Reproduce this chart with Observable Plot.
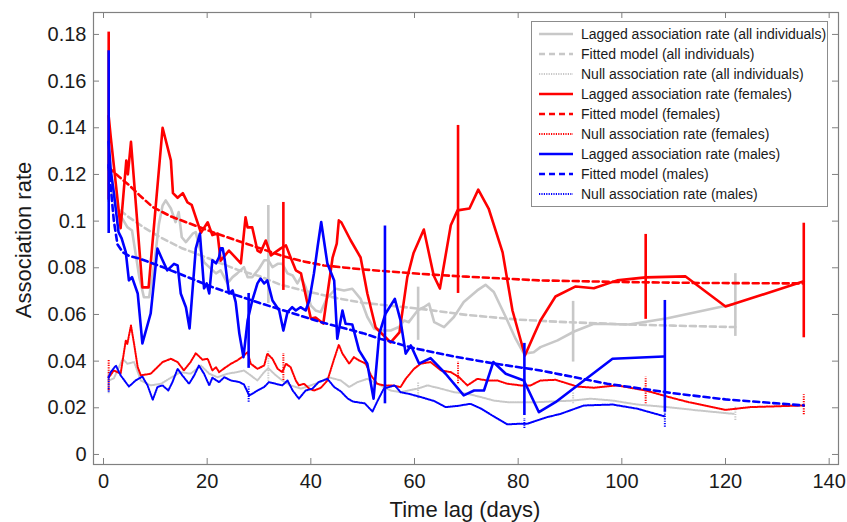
<!DOCTYPE html>
<html><head><meta charset="utf-8">
<script src="https://cdn.jsdelivr.net/npm/d3@7"></script>
<script src="https://cdn.jsdelivr.net/npm/@observablehq/plot@0.6"></script>
<style>
body{margin:0;background:#fff;}
#wrap{position:relative;width:847px;height:522px;font-family:"Liberation Sans",Arial,Helvetica,sans-serif;color:#1a1a1a;}
#legend{position:absolute;left:531px;top:21px;width:297px;height:186px;border:1px solid #8c8c8c;background:#fff;box-sizing:border-box;}
.row{position:absolute;left:6px;height:20px;display:flex;align-items:center;font-size:14px;white-space:nowrap;}
.row svg{margin-right:7px;}
#ylab{position:absolute;left:24px;top:240px;transform:translate(-50%,-50%) rotate(-90deg);font-size:22px;white-space:nowrap;}
#xlab{position:absolute;left:465px;top:497px;transform:translate(-50%,0);font-size:22px;white-space:nowrap;}
</style></head>
<body><div id="wrap"><div id="chart"></div><div id="legend"></div><div id="ylab">Association rate</div><div id="xlab">Time lag (days)</div></div>
<script>
// ---- data (time lag in days, association rate) ----
const xTicks = [0, 20, 40, 60, 80, 100, 120, 140];
const yTicks = [0, 0.02, 0.04, 0.06, 0.08, 0.1, 0.12, 0.14, 0.16, 0.18];

const allLagged = [[1,0.125],[2.7,0.1046],[4.6,0.0974],[5.5,0.096],[6.9,0.076],[7.8,0.0674],[8.8,0.0674],[9.8,0.0817],[10.7,0.0989],[11.4,0.1067],[12.0,0.1089],[13.0,0.1054],[13.9,0.0996],[14.5,0.1039],[15.1,0.0931],[15.9,0.091],[17.2,0.0946],[17.8,0.0953],[18.4,0.0896],[19.4,0.0824],[20.4,0.0803],[21.7,0.0776],[22.6,0.0789],[23.9,0.0733],[24.9,0.076],[25.8,0.0776],[27.1,0.0803],[27.8,0.076],[28.7,0.076],[30.0,0.0796],[31.0,0.0832],[31.8,0.0832],[32.6,0.0803],[33.6,0.0817],[34.5,0.0817],[35.5,0.0776],[36.5,0.0767],[37.4,0.0733],[38.1,0.076],[39.0,0.0717],[40.0,0.0639],[40.9,0.0617],[41.9,0.061],[43.1,0.067],[44.8,0.071],[46.4,0.0703],[48.0,0.071],[49.6,0.0667],[50.9,0.0589],[52.2,0.0539],[53.5,0.0531],[55.4,0.0531],[57.0,0.0546],[58.0,0.0574],[58.9,0.0567],[60.6,0.0617],[61.8,0.0631],[62.8,0.0646],[63.8,0.0567],[65.7,0.0546],[67.6,0.0589],[69.5,0.0653],[72.1,0.0703],[73.7,0.0727],[75.3,0.0696],[77.6,0.0589],[79.5,0.0496],[81.1,0.0432],[83.0,0.0438],[84.3,0.046],[87.6,0.0489],[90.8,0.0527],[94.6,0.056],[101.4,0.0557],[108.8,0.0584],[121.9,0.0646]];
const allLaggedBars = [[1,0.108,0.145],[31.8,0.0647,0.1067],[60.7,0.0489,0.0717],[90.6,0.0396,0.0656],[121.9,0.0506,0.0775]];
const allFitted = [[1,0.116],[2.4,0.106],[5,0.1015],[8,0.097],[11,0.093],[15,0.0885],[18,0.086],[22,0.0825],[26,0.079],[30,0.0765],[34.2,0.0727],[40,0.0695],[45,0.067],[50,0.065],[61.2,0.0624],[70,0.0598],[80,0.0578],[88.2,0.0568],[100,0.0558],[110,0.0552],[121.9,0.0546]];
const allNull = [[1,0.0317],[2.0,0.0326],[3.7,0.041],[4.6,0.0389],[5.9,0.0396],[7.2,0.0317],[9.1,0.0296],[11.1,0.0303],[13.0,0.0329],[14.9,0.0353],[16.8,0.0346],[18.8,0.0381],[20.4,0.0346],[22.0,0.0331],[23.9,0.0346],[25.8,0.0353],[27.1,0.036],[28.4,0.0339],[29.7,0.0317],[31.0,0.0353],[31.8,0.037],[32.9,0.0346],[34.5,0.0317],[36.1,0.0296],[38.1,0.0282],[40.0,0.0296],[42.5,0.0317],[43.4,0.0331],[45.8,0.0317],[47.4,0.0289],[49.0,0.031],[50.9,0.0324],[52.8,0.0303],[55.4,0.0274],[57.3,0.0267],[60.6,0.0282],[62.5,0.0296],[65.1,0.0282],[67.6,0.0267],[70.2,0.026],[72.8,0.0246],[75.3,0.0231],[77.9,0.0224],[80.5,0.0224],[83.7,0.0224],[90.5,0.0231],[94.0,0.0239],[98.2,0.0231],[103.0,0.0214],[108.8,0.0203],[114.6,0.0189],[121.6,0.0174]];
const allNullBars = [[1,0.026,0.036],[31.8,0.0303,0.0446],[60.7,0.0239,0.031],[90.6,0.0217,0.0267],[121.9,0.0146,0.0203]];

const femLagged = [[1,0.145],[1.4,0.136],[3.3,0.097],[4.4,0.126],[4.7,0.12],[5.3,0.134],[7.5,0.0716],[8.7,0.0716],[11.4,0.14],[13.0,0.126],[13.4,0.112],[14.3,0.11],[15.3,0.112],[16.2,0.108],[17.0,0.107],[17.6,0.103],[18.8,0.095],[20.1,0.0995],[21.0,0.094],[22.0,0.0947],[22.6,0.083],[24.2,0.0874],[26.5,0.0819],[27.4,0.1016],[27.8,0.0973],[28.7,0.0973],[29.7,0.0874],[30.3,0.0866],[31.3,0.0917],[32.3,0.0853],[34.2,0.0883],[35.2,0.0896],[36.1,0.0844],[37.1,0.0789],[38.1,0.0776],[39.3,0.0652],[40.0,0.0583],[40.9,0.0587],[42.4,0.0561],[44.2,0.0844],[45.0,0.0904],[45.4,0.1003],[45.9,0.0994],[47.7,0.0917],[49.6,0.0844],[50.9,0.069],[52.5,0.0544],[55.4,0.048],[57.1,0.0523],[58.6,0.0759],[59.8,0.0862],[61.8,0.0964],[63.7,0.0767],[64.9,0.0711],[67.0,0.0982],[68.3,0.1046],[70.6,0.1054],[72.3,0.1135],[74.3,0.1054],[77.0,0.0866],[78.9,0.0617],[81.3,0.0424],[83.0,0.051],[84.3,0.0574],[87.2,0.0677],[91.1,0.072],[94.6,0.0712],[99.1,0.0746],[104.6,0.0759],[112.3,0.0763],[120.0,0.0634],[135.1,0.0742]];
const femLaggedBars = [[1,0.109,0.181],[34.7,0.0703,0.108],[68.4,0.069,0.141],[104.6,0.0579,0.0943],[135.1,0.05,0.0991]];
const femFitted = [[1,0.123],[3,0.119],[5,0.1153],[7,0.111],[9.5,0.106],[13,0.102],[17.8,0.098],[22,0.0945],[26,0.0915],[30,0.0885],[34.2,0.0853],[38,0.083],[42.5,0.081],[50,0.0793],[61,0.0774],[70,0.0762],[84,0.0746],[100,0.0739],[115,0.0735],[135.1,0.0733]];
const femNull = [[1,0.033],[2.0,0.036],[3.3,0.0346],[4.3,0.0489],[4.6,0.0474],[5.3,0.0553],[5.9,0.0474],[6.6,0.0374],[7.2,0.0339],[9.1,0.0346],[10.4,0.0374],[11.4,0.0396],[13.0,0.041],[14.3,0.0396],[15.5,0.036],[16.8,0.0396],[17.8,0.0434],[19.1,0.0406],[20.1,0.041],[21.0,0.036],[21.7,0.0374],[22.3,0.0353],[23.6,0.0374],[24.6,0.0389],[25.8,0.0403],[27.1,0.0424],[27.8,0.0439],[28.4,0.0389],[29.7,0.0367],[31.0,0.0381],[31.6,0.0432],[32.6,0.041],[33.6,0.0367],[34.5,0.0353],[35.2,0.0389],[36.1,0.0374],[37.1,0.0317],[37.7,0.0296],[38.7,0.0303],[39.7,0.0282],[40.6,0.0274],[41.9,0.0285],[43.2,0.0317],[44.5,0.041],[45.4,0.047],[46.1,0.0432],[47.4,0.0389],[48.3,0.0417],[49.3,0.0403],[50.6,0.0389],[51.6,0.0339],[52.8,0.0303],[54.1,0.0296],[55.7,0.0296],[57.3,0.0289],[58.3,0.0324],[59.9,0.0367],[61.2,0.0389],[63.1,0.0396],[65.1,0.036],[67.0,0.0353],[68.6,0.0331],[70.2,0.0296],[72.1,0.0324],[74.1,0.0317],[76.0,0.0317],[77.9,0.0303],[80.5,0.0296],[82.4,0.0296],[84.3,0.0317],[87.2,0.032],[91.4,0.0291],[94.6,0.0286],[99.1,0.0296],[104.6,0.0274],[109.1,0.0246],[112.9,0.0224],[120.0,0.0191],[124.8,0.0203],[135.1,0.021]];
const femNullBars = [[1,0.0274,0.0403],[34.7,0.0317,0.0433],[68.4,0.0303,0.0396],[104.6,0.0217,0.0331],[135.1,0.017,0.0256]];

const maleLagged = [[1,0.134],[1.4,0.1217],[2.0,0.112],[2.9,0.0953],[3.5,0.0926],[4.3,0.0867],[4.9,0.0746],[5.5,0.076],[6.6,0.069],[7.5,0.0476],[9.1,0.0604],[10.4,0.0882],[11.4,0.0832],[12.3,0.0789],[13.6,0.0817],[14.3,0.081],[14.9,0.069],[15.9,0.0631],[16.6,0.054],[17.8,0.0882],[18.6,0.0947],[19.4,0.0712],[19.9,0.0733],[20.4,0.069],[21.0,0.0832],[21.7,0.0819],[22.3,0.0846],[22.6,0.0883],[23.0,0.0883],[23.4,0.0832],[24.2,0.069],[24.9,0.0703],[25.5,0.0653],[26.2,0.0519],[27.0,0.0417],[27.8,0.0574],[28.7,0.066],[29.7,0.0733],[30.3,0.0754],[31.0,0.0733],[31.6,0.0746],[32.6,0.066],[33.9,0.0617],[34.7,0.0531],[35.5,0.061],[36.4,0.0631],[37.1,0.0617],[38.0,0.0631],[39.0,0.0617],[39.7,0.066],[40.6,0.0776],[41.3,0.0889],[42.0,0.0996],[43.2,0.0817],[44.5,0.0746],[45.1,0.0496],[46.1,0.0617],[46.7,0.056],[48.0,0.0557],[49.3,0.0446],[50.9,0.0389],[52.1,0.0239],[53.2,0.0517],[54.4,0.0603],[56.2,0.0667],[57.3,0.0574],[58.3,0.0432],[59.3,0.0467],[60.9,0.0389],[63.1,0.0413],[66.0,0.0346],[69.5,0.0253],[71.5,0.0274],[73.4,0.0274],[75.2,0.0396],[77.6,0.0346],[81.1,0.0317],[84.0,0.0181],[87.2,0.0224],[98.2,0.041],[108.1,0.042]];
const maleLaggedBars = [[1,0.0947,0.173],[28,0.0369,0.069],[54.3,0.0217,0.0979],[81.2,0.0167,0.0476],[108.3,0.0181,0.066]];
const maleFitted = [[1,0.124],[1.5,0.112],[2,0.1],[2.7,0.09],[3.7,0.0867],[5,0.085],[7,0.0839],[11.4,0.0803],[17.8,0.0746],[21,0.0717],[30,0.065],[42,0.0567],[50,0.052],[53.5,0.0495],[60,0.0455],[67.6,0.042],[75.3,0.039],[84.3,0.036],[97.2,0.0303],[110,0.0262],[120,0.0236],[135.1,0.021]];
const maleNull = [[1,0.033],[1.4,0.0353],[2.4,0.0381],[3.3,0.0339],[4.9,0.0291],[6.2,0.0317],[7.5,0.0334],[8.5,0.0296],[9.5,0.0234],[10.4,0.0289],[11.4,0.0296],[12.5,0.0274],[13.3,0.031],[14.3,0.0367],[15.2,0.0339],[16.5,0.0303],[17.5,0.0339],[18.4,0.0381],[19.4,0.0346],[20.4,0.0296],[21.0,0.0329],[22.3,0.031],[23.3,0.0331],[24.6,0.0317],[26.2,0.031],[27.1,0.03],[28.1,0.0253],[28.7,0.026],[29.7,0.0274],[31.0,0.0289],[31.9,0.031],[33.2,0.0303],[34.5,0.0296],[35.5,0.0317],[36.5,0.0274],[37.7,0.0239],[39.0,0.0274],[40.3,0.0282],[41.5,0.031],[43.2,0.0324],[44.5,0.0289],[45.8,0.027],[47.1,0.024],[48.1,0.0227],[49.2,0.0223],[50.4,0.0219],[51.9,0.0184],[52.9,0.0231],[54.1,0.0283],[56.2,0.0296],[57.3,0.0267],[58.9,0.026],[61.2,0.0246],[63.8,0.0229],[66.0,0.0203],[68.3,0.0208],[70.8,0.0217],[72.8,0.0197],[75.3,0.0163],[77.9,0.0129],[80.5,0.0132],[81.8,0.0132],[85.6,0.016],[88.2,0.0174],[92.7,0.021],[98.2,0.0214],[103.0,0.0196],[108.3,0.0163]];
const maleNullBars = [[1,0.0267,0.0339],[28,0.0224,0.0289],[54.3,0.0219,0.026],[81.2,0.0111,0.0154],[108.3,0.0117,0.0181]];

// ---- styles ----
const GRAY = "#c8c8c8", RED = "#ff0000", BLUE = "#0000ff";
const STYLES = {
  lagged: {strokeWidth: 2.6, dash: null},
  fitted: {strokeWidth: 2.6, dash: "6,4"},
  nullr:  {strokeWidth: 2, dash: "1.2,1.2"}
};
const series = [
  {name: "Lagged association rate (all individuals)", data: allLagged, bars: allLaggedBars, color: GRAY, style: "lagged"},
  {name: "Fitted model (all individuals)", data: allFitted, bars: [], color: GRAY, style: "fitted"},
  {name: "Null association rate (all individuals)", data: allNull, bars: allNullBars, color: GRAY, style: "nullr"},
  {name: "Lagged association rate (females)", data: femLagged, bars: femLaggedBars, color: RED, style: "lagged"},
  {name: "Fitted model (females)", data: femFitted, bars: [], color: RED, style: "fitted"},
  {name: "Null association rate (females)", data: femNull, bars: femNullBars, color: RED, style: "nullr"},
  {name: "Lagged association rate (males)", data: maleLagged, bars: maleLaggedBars, color: BLUE, style: "lagged"},
  {name: "Fitted model (males)", data: maleFitted, bars: [], color: BLUE, style: "fitted"},
  {name: "Null association rate (males)", data: maleNull, bars: maleNullBars, color: BLUE, style: "nullr"}
];

const W = 847, H = 522, mL = 93, mR = 9, mT = 12, mB = 58;
const fw = W - mL - mR, fh = H - mT - mB, tk = 6;
const AX = "#808080";

const dataMarks = series.flatMap(s => {
  const st = STYLES[s.style];
  return [
    Plot.line(s.data, {x: d => d[0], y: d => d[1], stroke: s.color, strokeWidth: st.strokeWidth, strokeDasharray: st.dash, strokeLinejoin: "round"}),
    Plot.ruleX(s.bars, {x: d => d[0], y1: d => d[1], y2: d => d[2], stroke: s.color, strokeWidth: st.strokeWidth, strokeDasharray: st.dash})
  ];
});

const chart = Plot.plot({
  width: W, height: H,
  marginLeft: mL, marginRight: mR, marginTop: mT, marginBottom: mB,
  style: {fontFamily: '"Liberation Sans", Arial, Helvetica, sans-serif', background: "#fff", color: "#1a1a1a"},
  x: {domain: [-1.93, 141.8]},
  y: {domain: [-0.0043, 0.1894]},
  marks: [
    Plot.tickY(yTicks, {y: d => d, insetRight: fw - tk, stroke: AX}),
    Plot.tickY(yTicks, {y: d => d, insetLeft: fw - tk, stroke: AX}),
    Plot.tickX(xTicks, {x: d => d, insetTop: fh - tk, stroke: AX}),
    Plot.tickX(xTicks, {x: d => d, insetBottom: fh - tk, stroke: AX}),
    Plot.axisY(yTicks, {tickSize: 0, tickPadding: 7, fontSize: 20, label: null, tickFormat: d => String(d), fill: "#1a1a1a"}),
    Plot.axisX(xTicks, {tickSize: 0, tickPadding: 9, fontSize: 20, label: null, tickFormat: d => String(d), fill: "#1a1a1a"}),
    ...dataMarks,
    Plot.frame({stroke: AX, strokeWidth: 1.2})
  ]
});
document.getElementById("chart").appendChild(chart);

// ---- legend ----
const leg = document.getElementById("legend");
series.forEach((s, i) => {
  const st = STYLES[s.style];
  const row = document.createElement("div");
  row.className = "row";
  row.style.top = (2 + 20 * i) + "px";
  row.innerHTML = `<svg width="36" height="10"><line x1="1" x2="35" y1="5" y2="5" stroke="${s.color}" stroke-width="${st.strokeWidth}" ${st.dash ? `stroke-dasharray="${st.dash}"` : ""}/></svg><span>${s.name}</span>`;
  leg.appendChild(row);
});
</script>
</body></html>
